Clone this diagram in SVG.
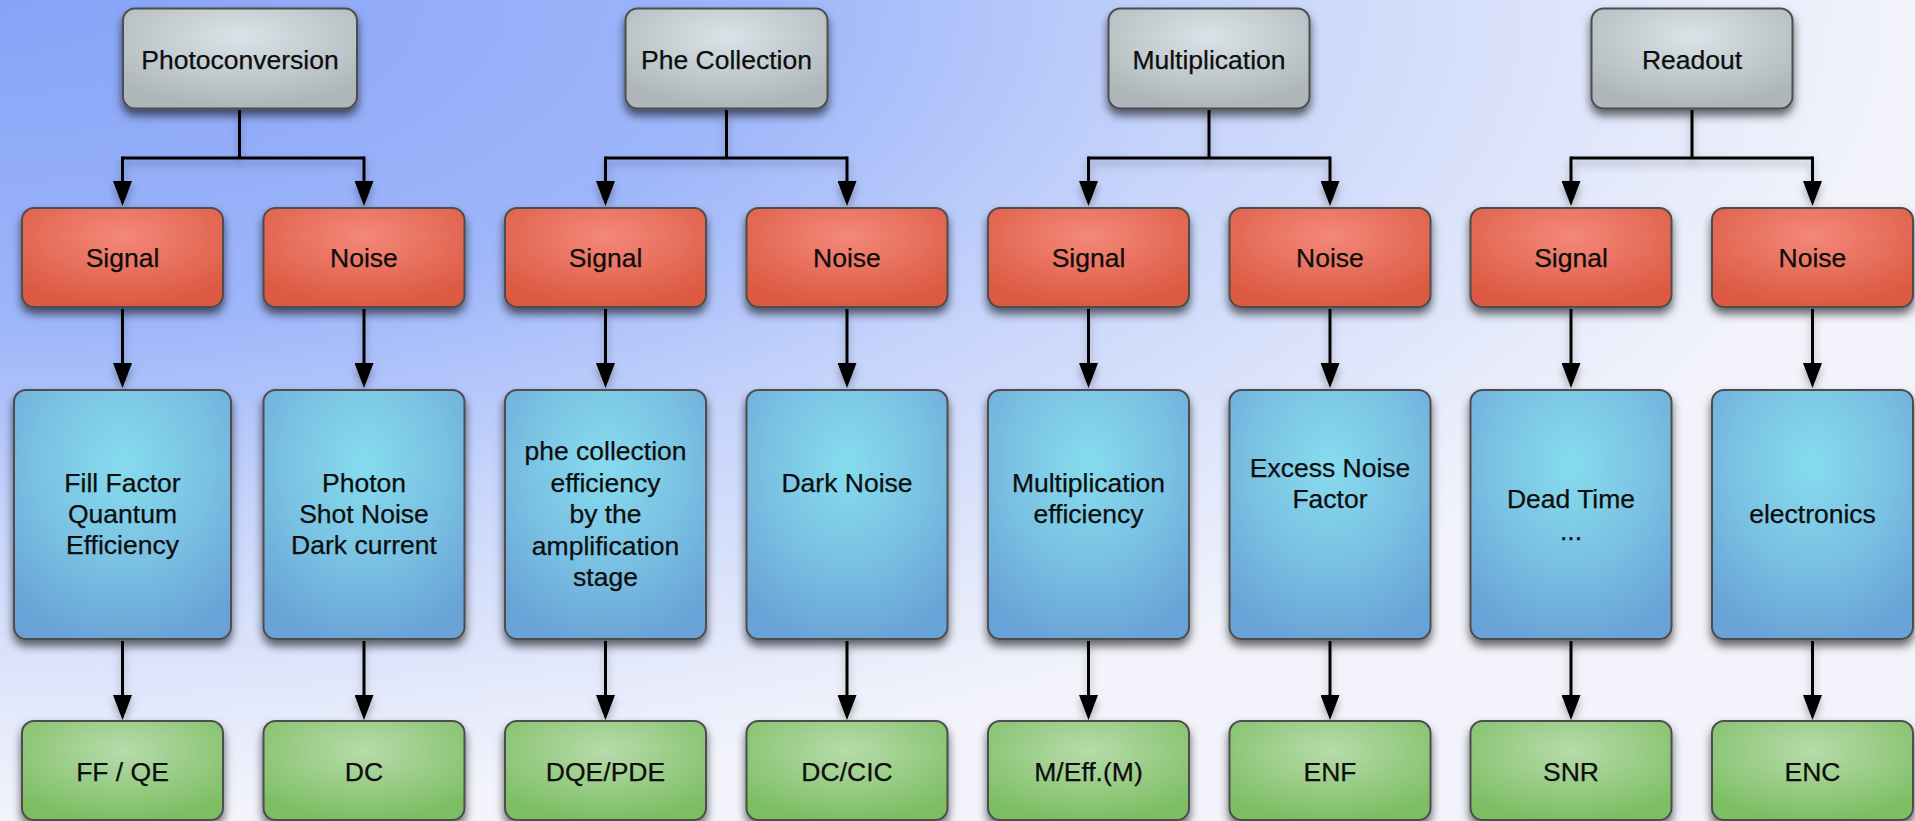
<svg xmlns="http://www.w3.org/2000/svg" width="1915" height="821" viewBox="0 0 1915 821">
  <defs>
    <radialGradient id="bg" cx="0" cy="0" r="1" fx="0" fy="0">
      <stop offset="0" stop-color="#86a3f7"/>
      <stop offset="0.4" stop-color="#9eb6fa"/>
      <stop offset="0.63" stop-color="#c6d4fb"/>
      <stop offset="0.85" stop-color="#e1e7fb"/>
      <stop offset="1" stop-color="#f3f4fb"/>
    </radialGradient>
    <radialGradient id="gGray" cx="0.5" cy="0.28" r="0.7">
      <stop offset="0" stop-color="#d9e4e8"/>
      <stop offset="1" stop-color="#aeb6b9"/>
    </radialGradient>
    <radialGradient id="gRed" cx="0.5" cy="0.28" r="0.7">
      <stop offset="0" stop-color="#f4887a"/>
      <stop offset="1" stop-color="#dc5a42"/>
    </radialGradient>
    <radialGradient id="gBlue" cx="0.5" cy="0.3" r="0.75">
      <stop offset="0" stop-color="#86dcee"/>
      <stop offset="0.55" stop-color="#79c0e2"/>
      <stop offset="1" stop-color="#68a2d6"/>
    </radialGradient>
    <radialGradient id="gGreen" cx="0.5" cy="0.3" r="0.7">
      <stop offset="0" stop-color="#b7dbab"/>
      <stop offset="1" stop-color="#7dbe63"/>
    </radialGradient>
    <filter id="shadow" x="-20%" y="-20%" width="140%" height="160%">
      <feDropShadow dx="0" dy="6" stdDeviation="5" flood-color="#000" flood-opacity="0.6"/>
    </filter>
    <filter id="lineShadow" x="-20%" y="-20%" width="140%" height="150%">
      <feDropShadow dx="0" dy="5" stdDeviation="4" flood-color="#000" flood-opacity="0.3"/>
    </filter>
    <marker id="arrow" viewBox="0 0 25 19" refX="1" refY="9.5" markerWidth="25" markerHeight="19" markerUnits="userSpaceOnUse" orient="auto">
      <path d="M0,0 L25,9.5 L0,19 Z" fill="#000"/>
    </marker>
  </defs>
  <style>
    .box { stroke: #4d4d4d; stroke-width: 2; filter: url(#shadow); }
    .gray { fill: url(#gGray); }
    .red { fill: url(#gRed); }
    .blue { fill: url(#gBlue); }
    .green { fill: url(#gGreen); }
    text { font-family: "Liberation Sans", Arial, Helvetica, sans-serif; font-size: 26.5px; fill: #0d0d0d; stroke: #0d0d0d; stroke-width: 0.25; text-anchor: middle; }
    .conn { fill: none; stroke: #000; stroke-width: 3; }
    .arr { marker-end: url(#arrow); }
  </style>

  <rect x="0" y="0" width="1915" height="821" fill="url(#bg)"/>

  <!-- connectors -->
  <g id="connectors" filter="url(#lineShadow)">
    <!-- Photoconversion -->
    <path class="conn" d="M239.5,110 V158 M122.5,158 H364"/>
    <path class="conn arr" d="M122.5,156.5 V182"/>
    <path class="conn arr" d="M364,156.5 V182"/>
    <path class="conn arr" d="M122.5,309 V364"/>
    <path class="conn arr" d="M364,309 V364"/>
    <path class="conn arr" d="M122.5,641 V696"/>
    <path class="conn arr" d="M364,641 V696"/>
    <!-- Phe Collection -->
    <path class="conn" d="M726.5,110 V158 M605.5,158 H847"/>
    <path class="conn arr" d="M605.5,156.5 V182"/>
    <path class="conn arr" d="M847,156.5 V182"/>
    <path class="conn arr" d="M605.5,309 V364"/>
    <path class="conn arr" d="M847,309 V364"/>
    <path class="conn arr" d="M605.5,641 V696"/>
    <path class="conn arr" d="M847,641 V696"/>
    <!-- Multiplication -->
    <path class="conn" d="M1209,110 V158 M1088.5,158 H1330"/>
    <path class="conn arr" d="M1088.5,156.5 V182"/>
    <path class="conn arr" d="M1330,156.5 V182"/>
    <path class="conn arr" d="M1088.5,309 V364"/>
    <path class="conn arr" d="M1330,309 V364"/>
    <path class="conn arr" d="M1088.5,641 V696"/>
    <path class="conn arr" d="M1330,641 V696"/>
    <!-- Readout -->
    <path class="conn" d="M1692,110 V158 M1571,158 H1812.5"/>
    <path class="conn arr" d="M1571,156.5 V182"/>
    <path class="conn arr" d="M1812.5,156.5 V182"/>
    <path class="conn arr" d="M1571,309 V364"/>
    <path class="conn arr" d="M1812.5,309 V364"/>
    <path class="conn arr" d="M1571,641 V696"/>
    <path class="conn arr" d="M1812.5,641 V696"/>
  </g>

  <!-- stage headers -->
  <g id="photoconversion">
    <rect class="box gray" x="123" y="8.5" width="234" height="100" rx="12"/>
    <text x="240" y="68.5">Photoconversion</text>
  </g>
  <g id="phe-collection">
    <rect class="box gray" x="625.5" y="8.5" width="202" height="100" rx="12"/>
    <text x="726.5" y="68.5">Phe Collection</text>
  </g>
  <g id="multiplication">
    <rect class="box gray" x="1108.5" y="8.5" width="201" height="100" rx="12"/>
    <text x="1209" y="68.5">Multiplication</text>
  </g>
  <g id="readout">
    <rect class="box gray" x="1591.5" y="8.5" width="201" height="100" rx="12"/>
    <text x="1692" y="68.5">Readout</text>
  </g>

  <!-- signal / noise branches -->
  <g id="photoconversion-signal">
    <rect class="box red" x="22" y="208" width="201" height="99" rx="12"/>
    <text x="122.5" y="267">Signal</text>
  </g>
  <g id="photoconversion-noise">
    <rect class="box red" x="263.5" y="208" width="201" height="99" rx="12"/>
    <text x="364" y="267">Noise</text>
  </g>
  <g id="phe-collection-signal">
    <rect class="box red" x="505" y="208" width="201" height="99" rx="12"/>
    <text x="605.5" y="267">Signal</text>
  </g>
  <g id="phe-collection-noise">
    <rect class="box red" x="746.5" y="208" width="201" height="99" rx="12"/>
    <text x="847" y="267">Noise</text>
  </g>
  <g id="multiplication-signal">
    <rect class="box red" x="988" y="208" width="201" height="99" rx="12"/>
    <text x="1088.5" y="267">Signal</text>
  </g>
  <g id="multiplication-noise">
    <rect class="box red" x="1229.5" y="208" width="201" height="99" rx="12"/>
    <text x="1330" y="267">Noise</text>
  </g>
  <g id="readout-signal">
    <rect class="box red" x="1470.5" y="208" width="201" height="99" rx="12"/>
    <text x="1571" y="267">Signal</text>
  </g>
  <g id="readout-noise">
    <rect class="box red" x="1712" y="208" width="201" height="99" rx="12"/>
    <text x="1812.5" y="267">Noise</text>
  </g>

  <!-- contributing factors -->
  <g id="fill-factor-qe">
    <rect class="box blue" x="14" y="390" width="217" height="249" rx="12"/>
    <text x="122.5" y="492">Fill Factor</text>
    <text x="122.5" y="523">Quantum</text>
    <text x="122.5" y="554">Efficiency</text>
  </g>
  <g id="shot-noise-dark-current">
    <rect class="box blue" x="263.5" y="390" width="201" height="249" rx="12"/>
    <text x="364" y="492">Photon</text>
    <text x="364" y="523">Shot Noise</text>
    <text x="364" y="554">Dark current</text>
  </g>
  <g id="phe-collection-efficiency">
    <rect class="box blue" x="505" y="390" width="201" height="249" rx="12"/>
    <text x="605.5" y="460">phe collection</text>
    <text x="605.5" y="491.5">efficiency</text>
    <text x="605.5" y="523">by the</text>
    <text x="605.5" y="554.5">amplification</text>
    <text x="605.5" y="586">stage</text>
  </g>
  <g id="dark-noise">
    <rect class="box blue" x="746.5" y="390" width="201" height="249" rx="12"/>
    <text x="847" y="492">Dark Noise</text>
  </g>
  <g id="multiplication-efficiency">
    <rect class="box blue" x="988" y="390" width="201" height="249" rx="12"/>
    <text x="1088.5" y="492">Multiplication</text>
    <text x="1088.5" y="523">efficiency</text>
  </g>
  <g id="excess-noise-factor">
    <rect class="box blue" x="1229.5" y="390" width="201" height="249" rx="12"/>
    <text x="1330" y="477">Excess Noise</text>
    <text x="1330" y="508">Factor</text>
  </g>
  <g id="dead-time">
    <rect class="box blue" x="1470.5" y="390" width="201" height="249" rx="12"/>
    <text x="1571" y="508">Dead Time</text>
    <text x="1571" y="540">...</text>
  </g>
  <g id="electronics">
    <rect class="box blue" x="1712" y="390" width="201" height="249" rx="12"/>
    <text x="1812.5" y="523">electronics</text>
  </g>

  <!-- figures of merit -->
  <g id="ff-qe">
    <rect class="box green" x="22" y="721" width="201" height="99" rx="12"/>
    <text x="122.5" y="781">FF / QE</text>
  </g>
  <g id="dc">
    <rect class="box green" x="263.5" y="721" width="201" height="99" rx="12"/>
    <text x="364" y="781">DC</text>
  </g>
  <g id="dqe-pde">
    <rect class="box green" x="505" y="721" width="201" height="99" rx="12"/>
    <text x="605.5" y="781">DQE/PDE</text>
  </g>
  <g id="dc-cic">
    <rect class="box green" x="746.5" y="721" width="201" height="99" rx="12"/>
    <text x="847" y="781">DC/CIC</text>
  </g>
  <g id="m-eff">
    <rect class="box green" x="988" y="721" width="201" height="99" rx="12"/>
    <text x="1088.5" y="781">M/Eff.(M)</text>
  </g>
  <g id="enf">
    <rect class="box green" x="1229.5" y="721" width="201" height="99" rx="12"/>
    <text x="1330" y="781">ENF</text>
  </g>
  <g id="snr">
    <rect class="box green" x="1470.5" y="721" width="201" height="99" rx="12"/>
    <text x="1571" y="781">SNR</text>
  </g>
  <g id="enc">
    <rect class="box green" x="1712" y="721" width="201" height="99" rx="12"/>
    <text x="1812.5" y="781">ENC</text>
  </g>
</svg>
